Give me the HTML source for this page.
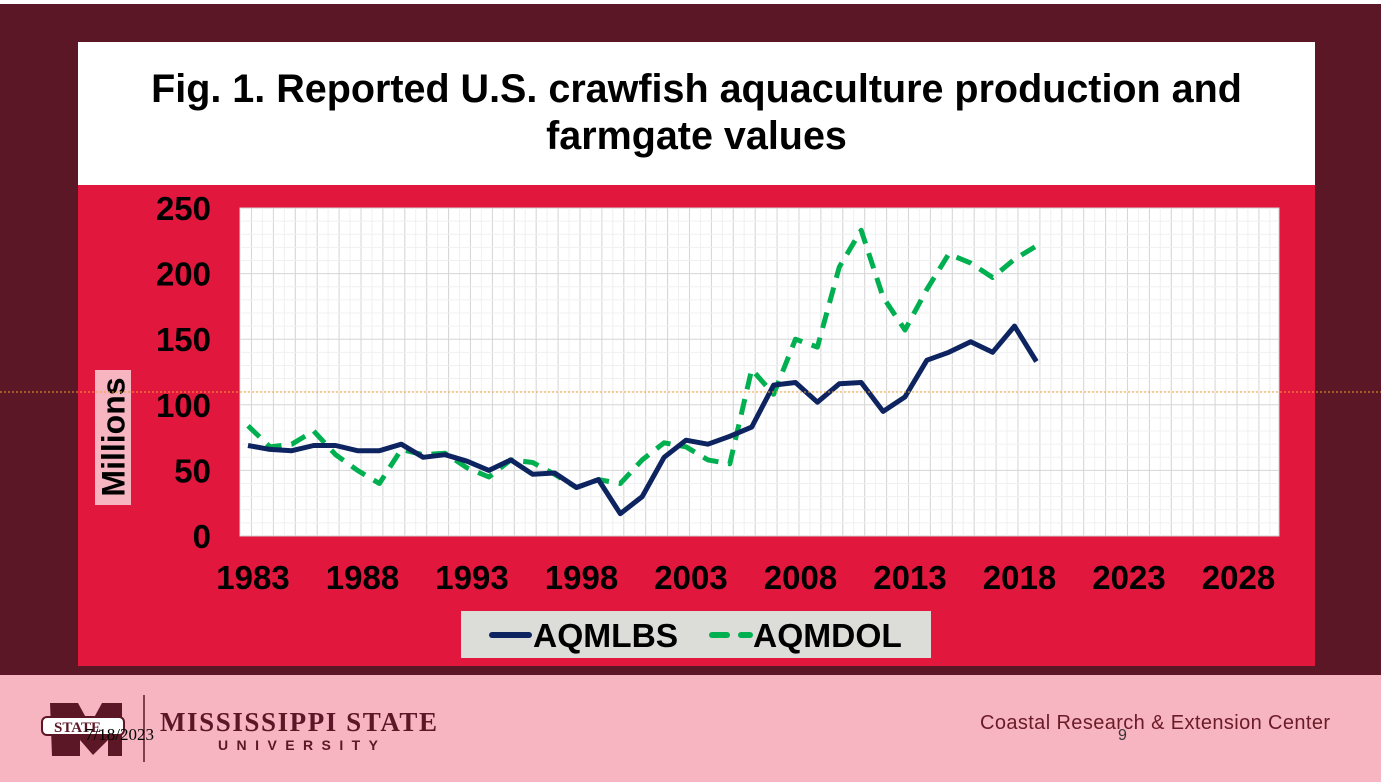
<!DOCTYPE html>
<html><head><meta charset="utf-8"><style>
body{margin:0;width:1381px;height:782px;overflow:hidden;background:#5c1726;font-family:"Liberation Sans",sans-serif;position:relative}
div{position:absolute}
</style></head><body>
<div style="left:0;top:0;width:1381px;height:4px;background:#fff"></div>
<div style="left:0;top:675px;width:1381px;height:107px;background:#f6b5c0"></div>
<div style="left:78px;top:42px;width:1237px;height:143px;background:#fff"></div>
<div style="left:78px;top:185px;width:1237px;height:481px;background:#e2173d"></div>
<div style="left:78px;top:66px;width:1237px;text-align:center;font-weight:bold;font-size:39.5px;line-height:47px;color:#000">Fig. 1. Reported U.S. crawfish aquaculture production and<br>farmgate values</div>
<div style="left:95px;top:370px;width:36px;height:135px;background:#f6b5c0"></div>
<div style="left:46px;top:419px;width:135px;height:36px;transform:rotate(-90deg);text-align:center;font-weight:bold;font-size:32px;line-height:36px">Millions</div>
<svg style="position:absolute;left:0;top:0" width="1381" height="782" id="s">
</svg>
<div style="left:461px;top:611px;width:470px;height:47px;background:#dcdcd9"></div>
<svg style="position:absolute;left:0;top:0" width="1381" height="782">
<line x1="492" y1="635" x2="529" y2="635" stroke="#0d2460" stroke-width="6" stroke-linecap="round"/>
<line x1="712" y1="635" x2="727" y2="635" stroke="#00b050" stroke-width="6" stroke-linecap="round"/>
<line x1="741" y1="635" x2="750" y2="635" stroke="#00b050" stroke-width="6" stroke-linecap="round"/>
<text x="533" y="647" font-family="Liberation Sans" font-weight="bold" font-size="33.5">AQMLBS</text>
<text x="753" y="647" font-family="Liberation Sans" font-weight="bold" font-size="33.5">AQMDOL</text>
<line x1="0" y1="392" x2="1381" y2="392" stroke="#f0a030" stroke-width="1" stroke-dasharray="2,2"/>
<line x1="144" y1="695" x2="144" y2="762" stroke="#5c1726" stroke-width="1.5"/>
<path d="M50 703 L78 703 L90 725 L102 703 L122 703 L122 756 L108 756 L108 740 L93 755 L80 740 L80 756 L52 756 Z" fill="#5c1726"/>
<rect x="42" y="717" width="82" height="18" rx="5" fill="#fff" stroke="#5c1726" stroke-width="2"/>
<text x="54" y="732" font-family="Liberation Serif" font-weight="bold" font-size="15" fill="#5c1726">STATE</text>
<text x="160" y="731" font-family="Liberation Serif" font-weight="bold" font-size="27" fill="#5c1726" textLength="277">MISSISSIPPI STATE</text>
<text x="218" y="750" font-family="Liberation Sans" font-weight="bold" font-size="14" fill="#5c1726" textLength="160">UNIVERSITY</text>
<text x="85" y="740" font-family="Liberation Serif" font-size="17" fill="#000">7/18/2023</text>
<text x="980" y="729" font-family="Liberation Sans" font-size="20" fill="#6b1a2a" textLength="350">Coastal Research &amp; Extension Center</text>
<text x="1118" y="740" font-family="Liberation Sans" font-size="16" fill="#333">9</text>
</svg>
<script>
var s=document.getElementById('s'),h='';
var L=240,R=1279,T=208,B=536;
h+='<rect x="'+L+'" y="'+T+'" width="'+(R-L)+'" height="'+(B-T)+'" fill="#fff" stroke="#d0d0d0"/>';
for(var x=251.5-11;x<R;x+=10.95){h+='<line x1="'+x+'" y1="'+T+'" x2="'+x+'" y2="'+B+'" stroke="#f0f0f0"/>';}
for(var x=251.5;x<R;x+=21.9){h+='<line x1="'+x+'" y1="'+T+'" x2="'+x+'" y2="'+B+'" stroke="#d6d6d6"/>';}
for(var v=10;v<250;v+=10){var y=B-v*1.312;h+='<line x1="'+L+'" y1="'+y+'" x2="'+R+'" y2="'+y+'" stroke="'+(v%50?'#f0f0f0':'#d6d6d6')+'"/>';}
for(var v=0;v<=250;v+=50){h+='<text x="211" y="'+(B-v*1.312+12)+'" text-anchor="end" font-family="Liberation Sans" font-weight="bold" font-size="33">'+v+'</text>';}
for(var yr=1983;yr<=2028;yr+=5){h+='<text x="'+(253+(yr-1983)*21.9)+'" y="589" text-anchor="middle" font-family="Liberation Sans" font-weight="bold" font-size="33">'+yr+'</text>';}
var a=[69,66,65,69,69,65,65,70,60,62,57,50,58,47,48,37,43,17,30,60,73,70,76,83,115,117,102,116,117,95,106,134,140,148,140,160,133];
var d=[84,68,70,80,62,50,40,66,62,63,52,45,58,56,47,37,43,40,58,71,68,58,55,127,108,150,144,205,233,182,157,188,215,208,197,211,221];
function p(arr){return arr.map(function(v,i){return (i?'L':'M')+(248+i*21.9).toFixed(1)+' '+(B-v*1.312).toFixed(1)}).join(' ');}
h+='<path d="'+p(d)+'" fill="none" stroke="#00b050" stroke-width="5" stroke-dasharray="16,10" stroke-linejoin="round"/>';
h+='<path d="'+p(a)+'" fill="none" stroke="#0d2460" stroke-width="5" stroke-linejoin="round"/>';
s.innerHTML=h;
</script>
</body></html>
